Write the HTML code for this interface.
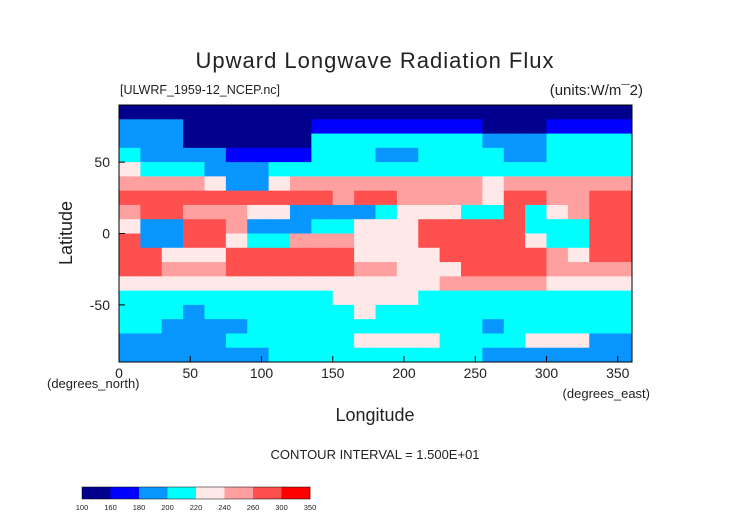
<!DOCTYPE html>
<html><head><meta charset="utf-8"><style>
body{margin:0;background:#fff;}
svg{display:block;font-family:"Liberation Sans",sans-serif;}
</style></head><body>
<svg id="chart" width="752" height="532" viewBox="0 0 752 532" xmlns="http://www.w3.org/2000/svg">
<text x="375" y="68" text-anchor="middle" font-size="22" fill="#222" letter-spacing="1">Upward Longwave Radiation Flux</text>
<text x="120" y="94" font-size="12.5" fill="#222">[ULWRF_1959-12_NCEP.nc]</text>
<text x="643" y="95" text-anchor="end" font-size="15" fill="#222">(units:W/m¯2)</text>
<g id="map"></g>
<rect x="119" y="105" width="513" height="257" fill="none" stroke="#000" stroke-width="1"/>
<g id="axes"></g>
<text transform="translate(72,233) rotate(-90)" text-anchor="middle" font-size="18" fill="#222">Latitude</text>
<text x="47" y="388" font-size="13" fill="#222">(degrees_north)</text>
<text x="650" y="398" text-anchor="end" font-size="13" fill="#222">(degrees_east)</text>
<text x="375" y="421" text-anchor="middle" font-size="18" fill="#222">Longitude</text>
<text x="375" y="459" text-anchor="middle" font-size="13" fill="#222">CONTOUR INTERVAL = 1.500E+01</text>
<g id="cbar"></g>
</svg>
<script>
const lonStep = 15;
const latTop = 90;
const latStep = 10;
const gridValues = [
[130,130,130,130,130,130,130,130,130,130,130,130,130,130,130,130,130,130,130,130,130,130,130,130],
[190,190,190,130,130,130,130,130,130,170,170,170,170,170,170,170,170,130,130,130,170,170,170,170],
[190,190,190,130,130,130,130,130,130,210,210,210,210,210,210,210,210,190,190,190,210,210,210,210],
[210,190,190,190,190,170,170,170,170,210,210,210,190,190,210,210,210,210,190,190,210,210,210,210],
[230,210,210,210,190,190,190,210,210,210,210,210,210,210,210,210,210,210,210,210,210,210,210,210],
[250,250,250,250,230,190,190,230,250,250,250,250,250,250,250,250,250,230,250,250,250,250,250,250],
[280,280,280,280,280,280,280,280,280,280,250,280,280,250,250,250,250,230,280,280,250,250,280,280],
[250,280,280,250,250,250,230,230,190,190,190,190,210,230,230,230,210,210,280,210,230,250,280,280],
[230,190,190,280,280,250,190,190,190,210,210,230,230,230,280,280,280,280,280,210,210,210,280,280],
[280,190,190,280,280,230,210,210,250,250,250,230,230,230,280,280,280,280,280,230,210,210,280,280],
[280,280,230,230,230,280,280,280,280,280,280,230,230,230,230,280,280,280,280,280,250,230,280,280],
[280,280,250,250,250,280,280,280,280,280,280,250,250,230,230,230,280,280,280,280,250,250,250,250],
[230,230,230,230,230,230,230,230,230,230,230,230,230,230,230,250,250,250,250,250,230,230,230,230],
[210,210,210,210,210,210,210,210,210,210,230,230,230,230,210,210,210,210,210,210,210,210,210,210],
[210,210,210,190,210,210,210,210,210,210,210,230,210,210,210,210,210,210,210,210,210,210,210,210],
[210,210,190,190,190,190,210,210,210,210,210,210,210,210,210,210,210,190,210,210,210,210,210,210],
[190,190,190,190,190,210,210,210,210,210,210,230,230,230,230,210,210,210,210,230,230,230,190,190],
[190,190,190,190,190,190,190,210,210,210,210,210,210,210,210,210,210,190,190,190,190,190,190,190]
];
const levels = [100,160,180,200,220,240,260,300,350];
const levelColors = ["#00008c","#0000ff","#0a96ff","#00ffff","#ffe8e8","#ffa0a0","#ff5050","#ff0000"];
const xTicks = [0,50,100,150,200,250,300,350];
const yTicks = [50,0,-50];

const NS="http://www.w3.org/2000/svg";
const X0=119,X1=632,Y0=105,Y1=362;
function xScale(lon){return X0+(lon/360)*(X1-X0);}
function yScale(lat){return Y0+((90-lat)/180)*(Y1-Y0);}
function colorFor(v){for(let i=0;i<levels.length-1;i++){if(v<levels[i+1])return levelColors[i];}return levelColors[levelColors.length-1];}
function mk(tag,attrs,parent){const e=document.createElementNS(NS,tag);for(const k in attrs)e.setAttribute(k,attrs[k]);parent.appendChild(e);return e;}

const map=document.getElementById('map');
gridValues.forEach((row,j)=>{
  row.forEach((v,i)=>{
    const lon0=i*lonStep, lat0=latTop-j*latStep;
    const x=xScale(lon0), y=yScale(lat0);
    const r=mk('rect',{x:x,y:y,width:xScale(lon0+lonStep)-x+0.5,height:yScale(lat0-latStep)-y+0.5,fill:colorFor(v)},map);
    
    
  });
});

const axes=document.getElementById('axes');
xTicks.forEach(t=>{
  const x=xScale(t);
  const l=mk('line',{x1:x,x2:x,y1:Y1,y2:Y1-6,stroke:'#000'},axes);
  
  
  const tx=mk('text',{x:x,y:378,'text-anchor':'middle','font-size':'14',fill:'#222'},axes);
  tx.textContent=t;
  
  
});
yTicks.forEach(t=>{
  const y=yScale(t);
  const l=mk('line',{x1:X0,x2:X0+6,y1:y,y2:y,stroke:'#000'},axes);
  
  
  const tx=mk('text',{x:110,y:y+5,'text-anchor':'end','font-size':'14',fill:'#222'},axes);
  tx.textContent=t;
  
  
});

const cbar=document.getElementById('cbar');
const CB0=82,CB1=310,CBW=(CB1-CB0)/levelColors.length;
levelColors.forEach((c,i)=>{
  const r=mk('rect',{x:CB0+i*CBW,y:487,width:CBW+0.3,height:12,fill:c},cbar);
  
  
});
mk('rect',{x:CB0,y:487,width:CB1-CB0,height:12,fill:'none',stroke:'#000','stroke-width':'0.5'},cbar);
levels.forEach((lv,i)=>{
  const tx=mk('text',{x:CB0+i*CBW,y:510,'text-anchor':'middle','font-size':'7.5',fill:'#222'},cbar);
  tx.textContent=lv;
  
  
});
</script>
</body></html>
